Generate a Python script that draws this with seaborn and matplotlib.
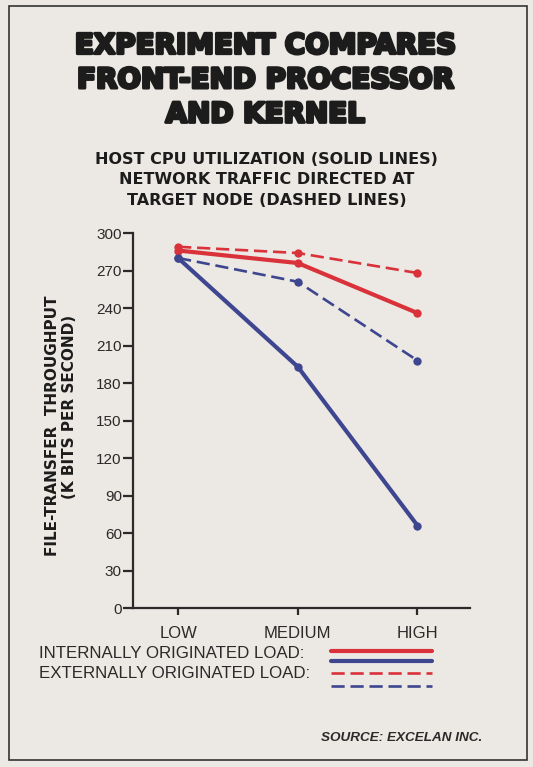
import matplotlib
matplotlib.use("Agg")
import matplotlib.pyplot as plt
import matplotlib.patheffects as pe
from matplotlib.lines import Line2D
from matplotlib.patches import Rectangle
import pandas as pd
import seaborn as sns

# values (K bits per second)
loads = ["LOW", "MEDIUM", "HIGH"]
red_solid = [286, 276, 236]
red_dashed = [289, 284, 268]
blue_solid = [280, 193, 66]
blue_dashed = [280, 261, 198]
y_ticks = [0, 30, 60, 90, 120, 150, 180, 210, 240, 270, 300]

RED = "#d9323a"
BLUE = "#3e4690"
BG = "#ece8e3"
INK = "#2a2a2a"
DASH = (0, (5, 2.2))

rows = []
for name, vals in [("red_solid", red_solid), ("red_dashed", red_dashed),
                   ("blue_solid", blue_solid), ("blue_dashed", blue_dashed)]:
    for load, v in zip(loads, vals):
        rows.append({"load": load, "throughput": v, "series": name})
df = pd.DataFrame(rows)

sns.set_style("ticks")
plt.rcParams["font.family"] = ["Liberation Sans", "DejaVu Sans"]

fig = plt.figure(figsize=(5.33, 7.67), dpi=100, facecolor=BG)
ax = fig.add_axes([0.2495, 0.2073, 0.6325, 0.4889])
ax.set_facecolor(BG)

styles = {
    "red_dashed": (RED, DASH, 1.9),
    "blue_dashed": (BLUE, DASH, 1.9),
    "red_solid": (RED, "-", 3.0),
    "blue_solid": (BLUE, "-", 3.0),
}
for name, (col, ls, lw) in styles.items():
    sub = df[df["series"] == name]
    sns.lineplot(data=sub, x="load", y="throughput", ax=ax, color=col,
                 linestyle=ls, linewidth=lw, marker="o", markersize=6,
                 markeredgewidth=0, sort=False)

ax.set_xlim(-0.377, 2.44)
ax.set_ylim(0, 300)
ax.set_yticks(y_ticks)
ax.set_xlabel("")
ax.set_ylabel("")
for s in ["top", "right"]:
    ax.spines[s].set_visible(False)
for s in ["left", "bottom"]:
    ax.spines[s].set_color(INK)
    ax.spines[s].set_linewidth(1.6)
ax.tick_params(axis="y", direction="out", length=7, width=1.6, color=INK,
               labelsize=11, labelcolor=INK, pad=1)
ax.tick_params(axis="x", direction="out", length=5, width=1.6, color=INK,
               labelsize=12, labelcolor=INK, pad=8)

# titles
fig.text(0.497, 1 - 80 / 767, "EXPERIMENT COMPARES\nFRONT-END PROCESSOR\nAND KERNEL",
         ha="center", va="center", fontsize=20, fontweight="black",
         family=["DejaVu Sans"], color="#1c1c1c", linespacing=1.29,
         path_effects=[pe.withStroke(linewidth=2.2, foreground="#1c1c1c")])
fig.text(0.5, 1 - 180 / 767,
         "HOST CPU UTILIZATION (SOLID LINES)\nNETWORK TRAFFIC DIRECTED AT\nTARGET NODE (DASHED LINES)",
         ha="center", va="center", fontsize=11.5, fontweight="bold", color="#1c1c1c",
         family=["DejaVu Sans"], linespacing=1.47)

# y axis label
fig.text(53 / 533, 1 - 426 / 767, "FILE-TRANSFER  THROUGHPUT",
         rotation=90, ha="center", va="center", fontsize=11,
         fontweight="bold", color="#1c1c1c", family=["DejaVu Sans"])
fig.text(69 / 533, 1 - 407 / 767, "(K BITS PER SECOND)",
         rotation=90, ha="center", va="center", fontsize=11,
         fontweight="bold", color="#1c1c1c", family=["DejaVu Sans"])

# legend
fig.text(39 / 533, 1 - 654 / 767, "INTERNALLY ORIGINATED LOAD:", ha="left",
         va="center", fontsize=12.2, color=INK)
fig.text(39 / 533, 1 - 673 / 767, "EXTERNALLY ORIGINATED LOAD:", ha="left",
         va="center", fontsize=12.2, color=INK)
x0, x1 = 331 / 533, 432 / 533
for ypix, col, ls, lw in [(651, RED, "-", 3.0), (661, BLUE, "-", 3.0),
                          (673, RED, DASH, 1.9), (686, BLUE, DASH, 1.9)]:
    fig.add_artist(Line2D([x0, x1], [1 - ypix / 767] * 2, color=col,
                          linestyle=ls, linewidth=lw, transform=fig.transFigure))

fig.text(482 / 533, 1 - 738 / 767, "SOURCE: EXCELAN INC.", ha="right",
         va="center", fontsize=9.7, fontweight="bold", style="italic", color=INK)

# frame around the graphic
fig.add_artist(Rectangle((9 / 533, 1 - 760 / 767), 518 / 533, 754 / 767,
                         fill=False, edgecolor="#333333", linewidth=1.2,
                         transform=fig.transFigure))

fig.savefig("out.png", dpi=100, facecolor=BG)
